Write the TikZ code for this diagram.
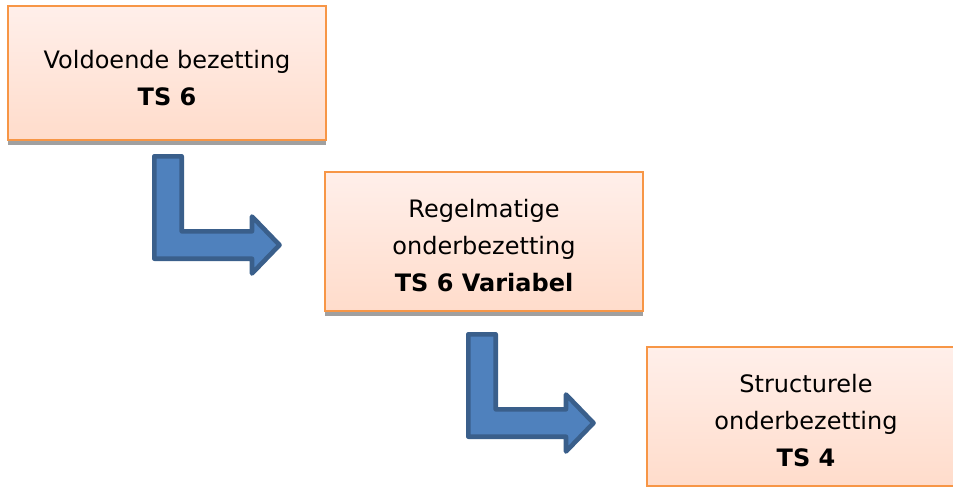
\documentclass[tikz,border=0pt]{standalone}
\usepackage{fontspec}
\setmainfont{DejaVu Sans}
\begin{document}
\begin{tikzpicture}[x=1pt,y=-1pt,
  stagebox/.style={draw=boxborder, line width=1.2pt, top color=boxtop, bottom color=boxbottom,
    minimum width=318pt, inner sep=0pt},
  stagelabel/.style={align=center, inner sep=0pt, font=\fontsize{24}{37}\selectfont, text=black},
  boxshadow/.style={fill=shadowgray, draw=none},
  bentarrow/.style={fill=arrowfill, draw=arrowborder, line width=4.6pt, line join=round}
]
\definecolor{boxborder}{HTML}{F79646}
\definecolor{boxtop}{HTML}{FFEFEA}
\definecolor{boxbottom}{HTML}{FFDCCB}
\definecolor{shadowgray}{HTML}{A0A0A0}
\definecolor{arrowfill}{HTML}{4F81BD}
\definecolor{arrowborder}{HTML}{3A5F8B}
\useasboundingbox (0,0) rectangle (953,490);
\clip (0,0) rectangle (953,490);
% shadows
\fill[boxshadow] (8,140) rectangle (326,145);
\fill[boxshadow] (325,311) rectangle (643,316);
% boxes
\node[stagebox, minimum height=134pt] (b1) at (167,73) {};
\node[stagebox, minimum height=139pt] (b2) at (484,241.5) {};
\node[stagebox, minimum height=139pt] (b3) at (806,416.5) {};
\node[stagelabel] (t1) at ([yshift=-5pt]b1.center) {Voldoende bezetting\\\textbf{TS 6}};
\node[stagelabel] (t2) at ([yshift=-4pt]b2.center) {Regelmatige\\onderbezetting\\\textbf{TS 6 Variabel}};
\node[stagelabel] (t3) at ([yshift=-4pt]b3.center) {Structurele\\onderbezetting\\\textbf{TS 4}};
% bent arrows
\draw[bentarrow] (154.3,156.3) -- (181.7,156.3) -- (181.7,231.3) -- (252,231.3) -- (252,216.5) -- (279.5,245) -- (252,273.5) -- (252,258.7) -- (154.3,258.7) -- cycle;
\begin{scope}[shift={(314,178)}]
\draw[bentarrow] (154.3,156.3) -- (181.7,156.3) -- (181.7,231.3) -- (252,231.3) -- (252,216.5) -- (279.5,245) -- (252,273.5) -- (252,258.7) -- (154.3,258.7) -- cycle;
\end{scope}
\end{tikzpicture}
\end{document}
